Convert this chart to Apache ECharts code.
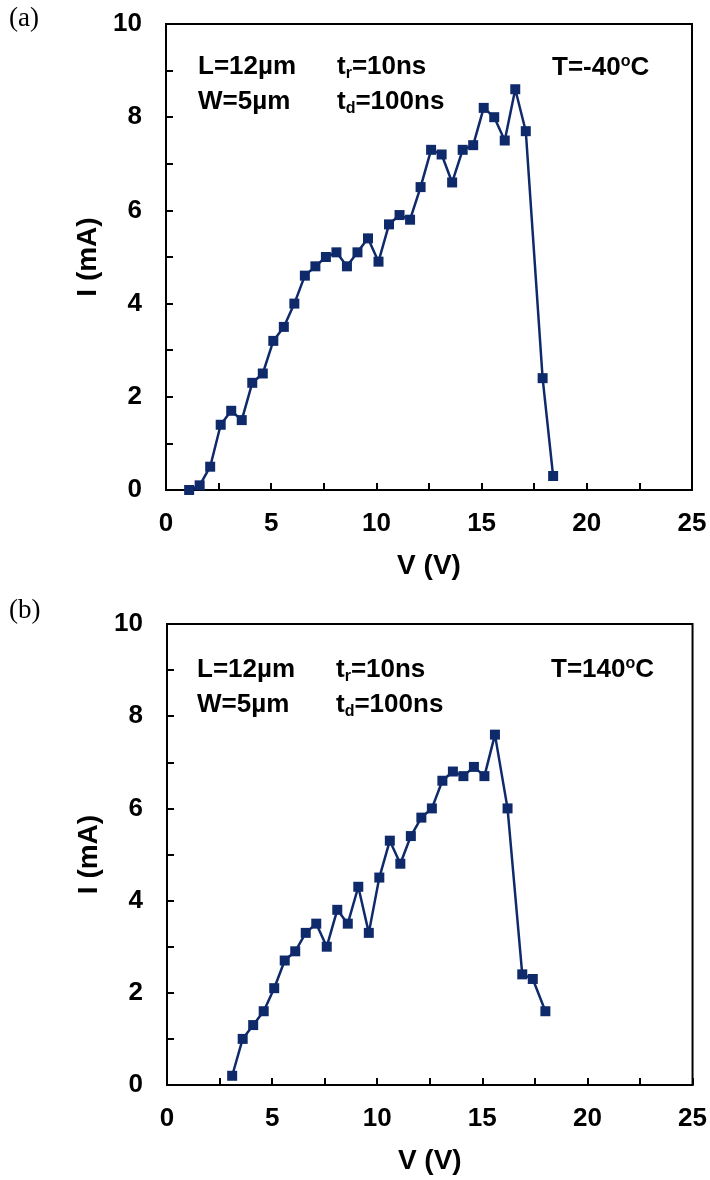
<!DOCTYPE html>
<html>
<head>
<meta charset="utf-8">
<script src="https://cdn.jsdelivr.net/npm/echarts@6/dist/echarts.min.js"></script>
<style>
html,body{margin:0;padding:0;background:#fff;}
#chart{width:710px;height:1180px;}
</style>
</head>
<body>
<div id="chart"></div>
<script>
// Panel (a): T = -40 C
var vA = [1.1,1.6,2.1,2.6,3.1,3.6,4.1,4.6,5.1,5.6,6.1,6.6,7.1,7.6,8.1,8.6,9.1,9.6,10.1,10.6,11.1,11.6,12.1,12.6,13.1,13.6,14.1,14.6,15.1,15.6,16.1,16.6,17.1,17.9,18.4];
var iA = [0,0.1,0.5,1.4,1.7,1.5,2.3,2.5,3.2,3.5,4.0,4.6,4.8,5.0,5.1,4.8,5.1,5.4,4.9,5.7,5.9,5.8,6.5,7.3,7.2,6.6,7.3,7.4,8.2,8.0,7.5,8.6,7.7,2.4,0.3];
// Panel (b): T = 140 C
var vB = [3.1,3.6,4.1,4.6,5.1,5.6,6.1,6.6,7.1,7.6,8.1,8.6,9.1,9.6,10.1,10.6,11.1,11.6,12.1,12.6,13.1,13.6,14.1,14.6,15.1,15.6,16.2,16.9,17.4,18.0];
var iB = [0.2,1.0,1.3,1.6,2.1,2.7,2.9,3.3,3.5,3.0,3.8,3.5,4.3,3.3,4.5,5.3,4.8,5.4,5.8,6.0,6.6,6.8,6.7,6.9,6.7,7.6,6.0,2.4,2.3,1.6];

var xName = 'V (V)';
var yName = 'I (mA)';
var panelLabels = ['(a)', '(b)'];
var tempLabels = ['T=-40', 'T=140'];

var FONT = '"Liberation Sans", Arial, Helvetica, sans-serif';
var NAVY = '#0f2a6b';

function pairs(xs, ys){ return xs.map(function(x,i){ return [x, ys[i]]; }); }

function xAxisCfg(gi){
  return {
    gridIndex: gi, type: 'value', min: 0, max: 25, interval: 5,
    name: xName, nameLocation: 'middle', nameGap: 62,
    nameTextStyle: {fontFamily: FONT, fontWeight: 'bold', fontSize: 28, color: '#000'},
    axisLine: {show: true, lineStyle: {color: '#000', width: 2}},
    axisTick: {show: true, inside: true, length: 7, lineStyle: {color: '#000', width: 2}},
    minorTick: {show: true, splitNumber: 2, length: 7, lineStyle: {color: '#000', width: 2}},
    splitLine: {show: false},
    axisLabel: {margin: 21, fontFamily: FONT, fontWeight: 'bold', fontSize: 26, color: '#000'}
  };
}
function yAxisCfg(gi){
  return {
    gridIndex: gi, type: 'value', min: 0, max: 10, interval: 2,
    name: yName, nameLocation: 'middle', nameGap: 53,
    nameTextStyle: {fontFamily: FONT, fontWeight: 'bold', fontSize: 28, color: '#000'},
    axisLine: {show: true, lineStyle: {color: '#000', width: 2}},
    axisTick: {show: true, inside: true, length: 7, lineStyle: {color: '#000', width: 2}},
    minorTick: {show: true, splitNumber: 2, length: 7, lineStyle: {color: '#000', width: 2}},
    splitLine: {show: false},
    axisLabel: {margin: 24, fontFamily: FONT, fontWeight: 'bold', fontSize: 26, color: '#000'}
  };
}
function seriesCfg(gi, xs, ys){
  return {
    type: 'line', xAxisIndex: gi, yAxisIndex: gi,
    data: pairs(xs, ys), clip: false,
    symbol: 'rect', symbolSize: 10,
    lineStyle: {color: NAVY, width: 2.5},
    itemStyle: {color: NAVY},
    emphasis: {disabled: true}, animation: false, z: 5
  };
}

var rich = {
  b: {fontFamily: FONT, fontWeight: 'bold', fontSize: 26, fill: '#000'},
  sub: {fontFamily: FONT, fontWeight: 'bold', fontSize: 16, fill: '#000', padding: [14,0,0,0]},
  sup: {fontFamily: FONT, fontWeight: 'bold', fontSize: 16, fill: '#000', padding: [0,0,12,0]}
};
function txt(x, y, s){
  return {type: 'text', left: x, top: y, z: 10,
    style: {text: s, rich: rich, font: 'bold 26px ' + FONT, fill: '#000', verticalAlign: 'middle'}};
}
function serif(x, y, s){
  return {type: 'text', left: x, top: y, z: 10,
    style: {text: s, font: '27px "Liberation Serif", "Times New Roman", serif', fill: '#000'}};
}

var option = {
  backgroundColor: '#fff',
  animation: false,
  grid: [
    {left: 166, top: 24, width: 526, height: 466, show: true, borderColor: '#000', borderWidth: 2, backgroundColor: 'transparent'},
    {left: 167, top: 624, width: 528, height: 461, show: true, borderColor: '#000', borderWidth: 2, backgroundColor: 'transparent'}
  ],
  xAxis: [xAxisCfg(0), xAxisCfg(1)],
  yAxis: [yAxisCfg(0), yAxisCfg(1)],
  series: [seriesCfg(0, vA, iA), seriesCfg(1, vB, iB)],
  graphic: [
    serif(9, 5, panelLabels[0]),
    serif(9, 597, panelLabels[1]),
    txt(198, 54, '{b|L=12\u00b5m}'),
    txt(198, 89, '{b|W=5\u00b5m}'),
    txt(337, 54, '{b|t}{sub|r}{b|=10ns}'),
    txt(337, 89, '{b|t}{sub|d}{b|=100ns}'),
    txt(552, 54, '{b|' + tempLabels[0] + '}{sup|o}{b|C}'),
    txt(197, 657, '{b|L=12\u00b5m}'),
    txt(197, 692, '{b|W=5\u00b5m}'),
    txt(336, 657, '{b|t}{sub|r}{b|=10ns}'),
    txt(336, 692, '{b|t}{sub|d}{b|=100ns}'),
    txt(551, 656, '{b|' + tempLabels[1] + '}{sup|o}{b|C}')
  ]
};

var chart = echarts.init(document.getElementById('chart'), null, {renderer: 'canvas'});
chart.setOption(option);
</script>
</body>
</html>
